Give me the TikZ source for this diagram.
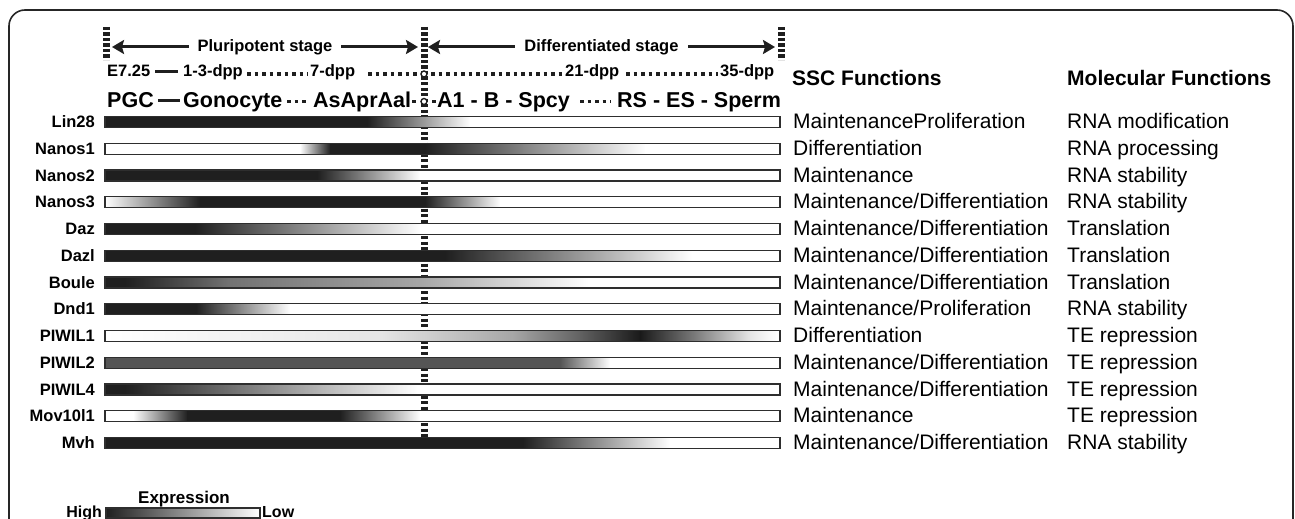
\documentclass[tikz,border=0pt]{standalone}
\usepackage{fontspec}
\setmainfont{Liberation Sans}
\usetikzlibrary{arrows.meta}
\definecolor{dk}{HTML}{1F1F1F}
\definecolor{pw}{HTML}{555555}
\newcommand{\fsz}[1]{\fontsize{#1}{#1}\selectfont}
\newcommand{\generow}[6]{%
  \foreach \xa/\ca/\xb/\cb in {#4} {\shade[left color=\ca,right color=\cb] (\xa,#3-5) rectangle (\xb+0.6,#3+5);}
  \draw[barline] (105,#3-5.5) rectangle (780,#3+5.5);
  \node[genelab] (g#1) at (95,#3+5.5) {#2};
  \node[fnlab] (s#1) at (793,#3+6.5) {#5};
  \node[fnlab] (m#1) at (1067,#3+6.5) {#6};
}
\begin{document}
\begin{tikzpicture}[x=1pt,y=-1pt,
  barline/.style={line width=1.4pt,draw=black!82},
  genelab/.style={anchor=base east,inner sep=0pt,font=\bfseries\fsz{16.5}},
  fnlab/.style={anchor=base west,inner sep=0pt,font=\fsz{21}},
  hdr/.style={anchor=base west,inner sep=0pt,font=\bfseries\fsz{21}},
  tl/.style={anchor=base west,inner sep=0pt,font=\bfseries\fsz{16.5}},
  cell/.style={anchor=base west,inner sep=0pt,font=\bfseries\fsz{21.5}},
  stagebox/.style={fill=white,inner xsep=9pt,inner ysep=2pt,font=\bfseries\fsz{16.5}},
  marker/.style={line width=7pt,draw=black!88,dash pattern=on 3.3pt off 2.2pt},
  dotline/.style={line width=3.5pt,draw=black!88,dash pattern=on 3.5pt off 4pt},
  thickdash/.style={line width=3pt,draw=black!88},
  stagearrow/.style={line width=3pt,draw=black!88,{Stealth[length=12pt,width=14pt,inset=2pt]}-{Stealth[length=12pt,width=14pt,inset=2pt]}},
  ring/.style={circle,draw=black!88,fill=white,line width=1.4pt,inner sep=0pt,minimum size=6pt}
]
\path[use as bounding box] (0,0) rectangle (1295,519);
\clip (0,0) rectangle (1295,519);
% frame
\draw[line width=1.6pt,draw=black!85,rounded corners=16pt] (9,10) rectangle (1293,560);

% stage markers
\coordinate (mLt) at (106,27); \coordinate (mLb) at (106,60);
\coordinate (mMt) at (424,27); \coordinate (mMb) at (424,440);
\coordinate (mRt) at (781,27); \coordinate (mRb) at (781,60);
\draw[marker] (mLt) -- (mLb);
\draw[marker] (mMt) -- (mMb);
\draw[marker] (mRt) -- (mRb);

% stage arrows
\coordinate (pA) at (112,47); \coordinate (pB) at (418,47);
\coordinate (dA) at (428,47); \coordinate (dB) at (775,47);
\draw[stagearrow] (pA) -- node[stagebox] (plu) {Pluripotent stage} (pB);
\draw[stagearrow] (dA) -- node[stagebox] (dif) {Differentiated stage} (dB);

% timeline
\node[tl] (e725) at (107,76) {E7.25};
\coordinate (t1a) at (155,71.5); \coordinate (t1b) at (178,71.5);
\draw[thickdash] (t1a) -- (t1b);
\node[tl] (d13) at (183,76) {1-3-dpp};
\coordinate (t2a) at (247,74); \coordinate (t2b) at (308,74);
\draw[dotline] (t2a) -- (t2b);
\node[tl] (d7) at (310,76) {7-dpp};
\coordinate (t3a) at (368,74); \coordinate (t3b) at (420,74);
\draw[dotline] (t3a) -- (t3b);
\coordinate (t4a) at (431,74); \coordinate (t4b) at (562,74);
\draw[dotline] (t4a) -- (t4b);
\node[tl] (d21) at (565,76) {21-dpp};
\coordinate (t5a) at (626,74); \coordinate (t5b) at (718,74);
\draw[dotline] (t5a) -- (t5b);
\node[tl] (d35) at (720,76) {35-dpp};
\node[ring] (r1) at (424,74) {};

% cell types
\node[cell] (pgc) at (107,107) {PGC};
\coordinate (c1a) at (158,100); \coordinate (c1b) at (180,100);
\draw[thickdash] (c1a) -- (c1b);
\node[cell] (gono) at (183,107) {Gonocyte};
\coordinate (c2a) at (287,101.5); \coordinate (c2b) at (309,101.5);
\draw[dotline] (c2a) -- (c2b);
\node[cell] (asap) at (313,107) {AsAprAal};
\coordinate (c3a) at (412,101.5); \coordinate (c3b) at (415.5,101.5);
\draw[dotline] (c3a) -- (c3b);
\coordinate (c4a) at (432,101.5); \coordinate (c4b) at (435.5,101.5);
\draw[dotline] (c4a) -- (c4b);
\node[ring] (r2) at (424,101.5) {};
\node[cell] (a1b) at (437,107) {A1 - B - Spcy};
\coordinate (c5a) at (580,101.5); \coordinate (c5b) at (611,101.5);
\draw[dotline] (c5a) -- (c5b);
\node[cell] (rses) at (617,107) {RS - ES - Sperm};

% headers
\node[hdr] (hssc) at (792,85) {SSC Functions};
\node[hdr] (hmol) at (1067,85) {Molecular Functions};

% rows
\generow{1}{Lin28}{122}{105/dk/367/dk,367/dk/470/white,470/white/780/white}{MaintenanceProliferation}{RNA modification}
\generow{2}{Nanos1}{148.75}{105/white/300/white,300/white/330/dk,330/dk/425/dk,425/dk/645/white,645/white/780/white}{Differentiation}{RNA processing}
\generow{3}{Nanos2}{175.5}{105/dk/317/dk,317/dk/420/white,420/white/780/white}{Maintenance}{RNA stability}
\generow{4}{Nanos3}{202.25}{105/white/200/dk,200/dk/425/dk,425/dk/500/white,500/white/780/white}{Maintenance/Differentiation}{RNA stability}
\generow{5}{Daz}{229}{105/dk/195/dk,195/dk/420/white,420/white/780/white}{Maintenance/Differentiation}{Translation}
\generow{6}{Dazl}{255.75}{105/dk/445/dk,445/dk/692/white,692/white/780/white}{Maintenance/Differentiation}{Translation}
\generow{7}{Boule}{282.5}{105/dk/125/dk,125/dk/230/black!55,230/black!55/420/black!35,420/black!35/590/white,590/white/780/white}{Maintenance/Differentiation}{Translation}
\generow{8}{Dnd1}{309.25}{105/dk/196/dk,196/dk/290/white,290/white/780/white}{Maintenance/Proliferation}{RNA stability}
\generow{9}{PIWIL1}{336}{105/white/380/black!10,380/black!10/513/black!35,513/black!35/580/black!62,580/black!62/640/black!90,640/black!90/697/black!50,697/black!50/750/black!10,750/black!10/776/white,776/white/780/white}{Differentiation}{TE repression}
\generow{10}{PIWIL2}{362.75}{105/pw/560/pw,560/pw/610/white,610/white/780/white}{Maintenance/Differentiation}{TE repression}
\generow{11}{PIWIL4}{389.5}{105/dk/125/dk,125/dk/417/white,417/white/780/white}{Maintenance/Differentiation}{TE repression}
\generow{12}{Mov10l1}{416.25}{105/white/133/white,133/white/187/dk,187/dk/340/dk,340/dk/420/white,420/white/780/white}{Maintenance}{TE repression}
\generow{13}{Mvh}{443}{105/dk/523/dk,523/dk/670/white,670/white/780/white}{Maintenance/Differentiation}{RNA stability}

% legend
\node[anchor=base,inner sep=0pt,font=\bfseries\fsz{17}] (expr) at (184,503) {Expression};
\shade[left color=dk,right color=white] (106,508) rectangle (260,518);
\draw[barline] (106,508) rectangle (260,518);
\node[anchor=base east,inner sep=0pt,font=\bfseries\fsz{16}] (high) at (102,517) {High};
\node[anchor=base west,inner sep=0pt,font=\bfseries\fsz{16}] (low) at (262,517) {Low};
\end{tikzpicture}
\end{document}
